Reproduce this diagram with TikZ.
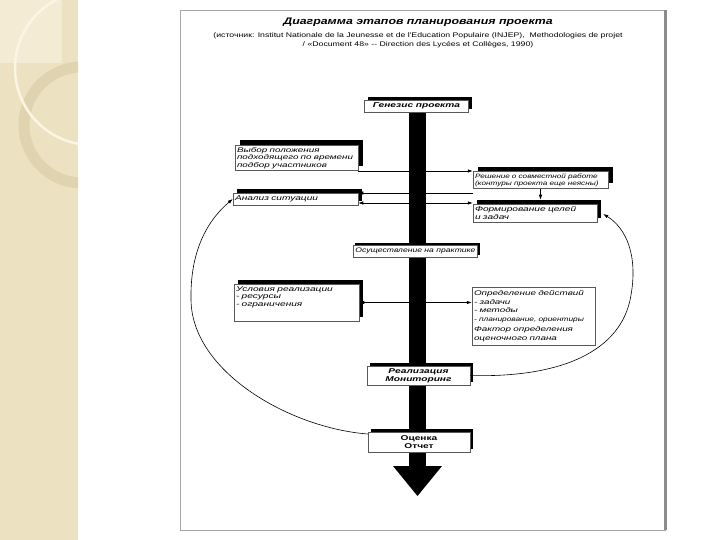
\documentclass[tikz,border=0pt]{standalone}
\usepackage{fontspec}
\setmainfont{Liberation Sans}
\newfontfamily\wide[FakeStretch=1.3]{Liberation Sans}
\newfontfamily\wider[FakeStretch=1.45]{Liberation Sans}
\usetikzlibrary{shadows,arrows.meta}
\pgfdeclarelayer{bg}
\pgfsetlayers{bg,main}
\definecolor{strip}{RGB}{236,225,192}
\definecolor{stripl}{RGB}{244,235,212}
\definecolor{ringc}{RGB}{224,212,176}
\definecolor{arcw}{RGB}{250,245,228}
\begin{document}
\begin{tikzpicture}[x=1pt,y=-1pt,
  box/.style={draw=black!65, line width=0.5pt, fill=white, inner sep=2pt,
    font=\wider\itshape\fontsize{7}{7.6}\selectfont, align=left},
  cbox/.style={box, align=center},
  shad/.style={drop shadow={shadow xshift=#1, shadow yshift=#1, fill=black, opacity=1}},
  arr/.style={-{Latex[length=5pt,width=3.5pt]}, line width=0.6pt},
  arrb/.style={{Latex[length=5pt,width=3.5pt]}-{Latex[length=5pt,width=3.5pt]}, line width=0.6pt}]
\useasboundingbox (0,0) rectangle (720,540);
% decorative strip
\fill[strip] (0,0) rectangle (78,540);
\fill[stripl] (0,0) rectangle (62,63);
\begin{scope}
  \clip (0,0) rectangle (78,540);
  \draw[ringc, line width=11pt] (82,125) circle[radius=58pt];
  \draw[arcw, line width=2.5pt] (92,68) circle[radius=77pt];
\end{scope}
% frame
\draw[black!35, line width=0.6pt] (180,10) rectangle (665,530);
\draw[black!45, line width=3pt] (665,10) -- (665,530);
% title
\node[font=\wide\bfseries\itshape\fontsize{9.5}{11}\selectfont] (title) at (418,22) {Диаграмма этапов планирования проекта};
\node[font=\wide\fontsize{6.7}{9}\selectfont, align=center] (src) at (418,40)
  {(источник: Institut Nationale de la Jeunesse et de l'Education Populaire (INJEP),\ \ Methodologies de projet\\/ «Document 48» -- Direction des Lycées et Collèges, 1990)};
% boxes
\node[cbox, shad=3pt, font=\wider\bfseries\itshape\fontsize{7}{7.6}\selectfont, minimum width=104pt, minimum height=12pt] (genesis) at (416.5,106) {Генезис проекта};
\node[box, shad=5pt, text width=119pt, minimum height=22pt, font=\wider\itshape\fontsize{6.8}{7.4}\selectfont] (vybor) at (296.5,158) {Выбор положения\\подходящего по времени\\подбор участников};
\node[box, shad=4pt, text width=121pt, minimum height=12pt] (analiz) at (295.5,199) {Анализ ситуации};
\node[box, shad=5pt, text width=131pt, minimum height=16pt, font=\wide\itshape\fontsize{6.3}{7}\selectfont] (reshenie) at (540.5,180) {Решение о совместной работе\\(контуры проекта еще неясны)};
\node[box, shad=4pt, text width=120pt, minimum height=18pt] (formir) at (535,213) {Формирование целей\\и задач};
\node[cbox, shad=2pt, minimum width=121pt, minimum height=12pt, font=\wide\itshape\fontsize{6.6}{7.4}\selectfont] (osush) at (415.5,251) {Осуществление на практике};
\node[box, shad=4pt, text width=121pt, minimum height=29pt] (uslov) at (296.5,302.5) {Условия реализации\\- ресурсы\\- ограничения\\[5pt]\mbox{}};
\node[box, text width=119pt, minimum height=58pt, font=\wider\itshape\fontsize{6.8}{8.8}\selectfont] (opred) at (533.5,316) {Определение действий\\- задачи\\- методы\\\mbox{\wide\itshape\fontsize{6.4}{8.8}\selectfont- планирование, ориентиры}\\[1pt]Фактор определения\\оценочного плана};
\node[cbox, shad=3pt, minimum width=103pt, minimum height=19pt, font=\wider\bfseries\itshape\fontsize{7}{7.8}\selectfont] (realiz) at (418.5,375.5) {Реализация\\Мониторинг};
\node[cbox, shad=3pt, minimum width=102pt, minimum height=20pt, font=\wider\bfseries\fontsize{7}{7.8}\selectfont] (ocenka) at (419,442) {Оценка\\Отчет};
% central arrow
\coordinate (tip) at (417.5,496);
\begin{pgfonlayer}{bg}
  \fill (409,100) rectangle (426,470);
  \fill (393,466) -- (442,466) -- (tip) -- cycle;
\end{pgfonlayer}
% connectors
\draw[arr] ([yshift=-13pt]vybor.east) -- ([yshift=-13pt]vybor.east -| reshenie.west);
\coordinate (c1) at (473,193);
\draw[arr] (c1) -- (c1 -| analiz.east);
\draw[arrb] ([yshift=-4pt]analiz.east) -- ([yshift=-4pt]analiz.east -| formir.west);
\draw[arr] (reshenie.south) -- ([yshift=4pt]reshenie.south |- formir.north);
\draw[arrb] (uslov.east) -- (uslov.east -| opred.west);
\draw[arr] ([yshift=8pt]ocenka.west) .. controls (290,428) and (192,372) .. (191,300)
  .. controls (190,250) and (208,220) .. (analiz.west);
\draw[arr] (realiz.east) .. controls (560,378) and (622,352) .. (631,295)
  .. controls (638,255) and (626,228) .. ([xshift=6pt,yshift=-1pt]formir.east);
\end{tikzpicture}
\end{document}
